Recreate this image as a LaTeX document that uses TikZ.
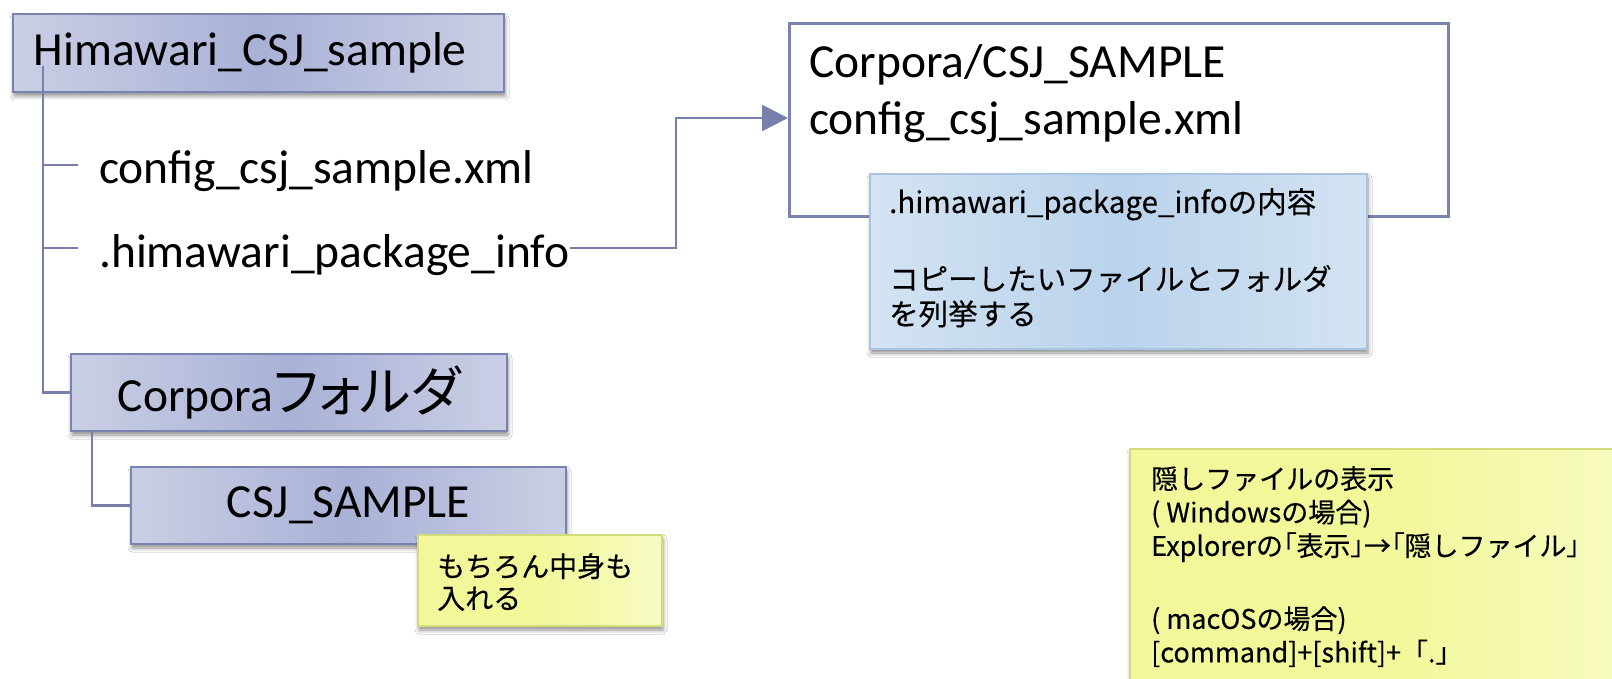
\documentclass[tikz,border=0pt]{standalone}
\usepackage{fontspec}
\setmainfont{Carlito}
\newfontfamily\jp[FakeBold=0.3]{Noto Sans CJK JP}
\newfontfamily\jpp[RawFeature=+palt]{Noto Sans CJK JP}
\usetikzlibrary{arrows.meta,shadows.blur,calc}

\definecolor{lavL}{HTML}{CBCFE5}
\definecolor{lavM}{HTML}{A9B1D6}
\definecolor{lavB}{HTML}{7883AF}
\definecolor{connC}{HTML}{7680AB}
\definecolor{bluL}{HTML}{D3E3F2}
\definecolor{bluM}{HTML}{BAD3EC}
\definecolor{bluB}{HTML}{A9C4E2}
\definecolor{yelL}{HTML}{F8FBC4}
\definecolor{yelM}{HTML}{F2F89A}
\definecolor{yelB}{HTML}{D3DC7A}

\begin{document}
\begin{tikzpicture}[x=1pt,y=-1pt,
  big/.style={font=\fontsize{47.5}{56}\selectfont},
  softshadow/.style={blur shadow={shadow xshift=1pt, shadow yshift=-4pt,
      shadow blur radius=4pt, shadow opacity=45}},
  folder/.style={draw=lavB, line width=2pt, left color=lavL, right color=lavL,
      middle color=lavM, softshadow, inner sep=0pt, anchor=north west, big},
  conn/.style={draw=connC, line width=2.5pt},
  bluenote/.style={draw=bluB, line width=2pt, left color=bluL, right color=bluL,
      middle color=bluM, softshadow, inner sep=0pt, anchor=north west},
  yellownote/.style={draw=yelB, line width=2pt, left color=yelM, right color=yelL,
      middle color=yelM, softshadow, inner sep=0pt, anchor=north west},
  plain/.style={inner sep=0pt, anchor=base west, big},
  notetext/.style={inner sep=0pt, anchor=north west, align=left}
]
\useasboundingbox (0,0) rectangle (1612,679);
\fill[white] (0,0) rectangle (1612,679);

% folder tree
\node[folder, minimum width=491pt, minimum height=78pt, text width=449pt,
      inner xsep=21pt, align=left] (h) at (12,13) {Himawari\_CSJ\_sample};
\node[plain] (cfg) at (99,184) {config\_csj\_sample.xml};
\node[plain] (info) at (99,267) {.himawari\_package\_info};
\node[folder, minimum width=436pt, minimum height=77pt] (corp) at (70,353)
      {Corpora{\jpp\fontsize{54}{58}\selectfont フォルダ}};
\node[folder, minimum width=435pt, minimum height=77pt] (csj) at (130,466)
      {CSJ\_SAMPLE};

% target listing
\node[draw=lavB, line width=3pt, fill=white, minimum width=659pt,
      minimum height=193pt, anchor=north west, inner sep=0pt] (b2) at (788,22) {};
\node[plain] (b2a) at (809,78) {Corpora/CSJ\_SAMPLE};
\node[plain] (b2b) at (809,135) {config\_csj\_sample.xml};

% tree connectors
\coordinate (t1) at (43,165);
\coordinate (t2) at (43,248);
\coordinate (bend) at (676,118);
\draw[conn] ([shift={(31,13)}]h.west) |- (corp.west);
\draw[conn] ([xshift=22pt]corp.south west) |- (csj.west);
\draw[conn] (t1) -- ($(t1 -| cfg.west)+(-21,0)$);
\draw[conn] (t2) -- ($(t2 -| info.west)+(-21,0)$);
\draw[conn, -{Triangle[length=26pt, width=26pt]}]
      (t2 -| info.east) -| (bend) -- (bend -| b2.west);

% notes
\node[bluenote, minimum width=497pt, minimum height=175pt] (pk) at (869,173) {};
\node[notetext, font=\jp\fontsize{29.5}{35}\selectfont] (pkt) at (889,188)
      {.himawari\_package\_infoの内容\\[42pt]コピーしたいファイルとフォルダ\\を列挙する};

\node[yellownote, minimum width=244pt, minimum height=91pt] (ys) at (417,534) {};
\node[notetext, font=\jp\fontsize{28}{32}\selectfont] (yst) at (437,553)
      {もちろん中身も\\入れる};

\node[yellownote, minimum width=520pt, minimum height=260pt] (yb) at (1129,448) {};
\node[notetext, font=\jp\fontsize{27}{33.5}\selectfont] (ybt) at (1151,466)
      {隠しファイルの表示\\( Windowsの場合)\\Explorerの{\jpp 「}表示{\jpp 」}→{\jpp 「}隠しファイル{\jpp 」}\\[39.5pt]( macOSの場合)\\{}[command]+[shift]+「.」};
\end{tikzpicture}
\end{document}
